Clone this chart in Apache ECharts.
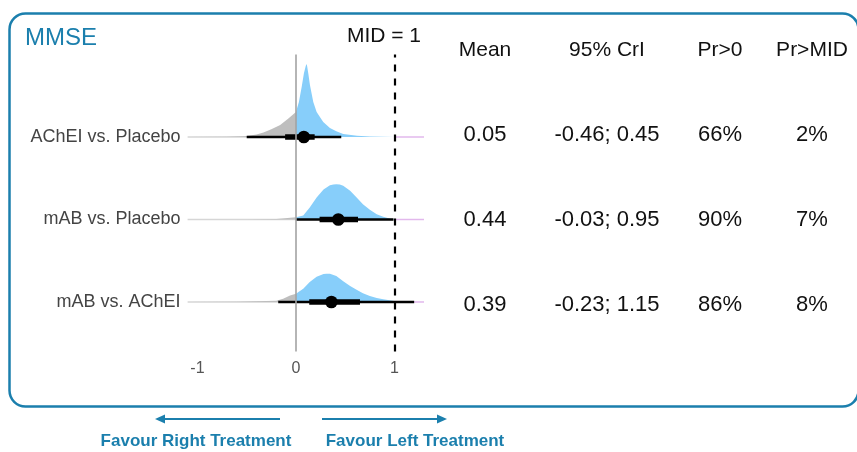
<!DOCTYPE html>
<html>
<head>
<meta charset="utf-8">
<script src="https://cdn.jsdelivr.net/npm/echarts@6/dist/echarts.min.js"></script>
<style>
html,body{margin:0;padding:0;background:#fff;}
#chart{width:857px;height:452px;}
</style>
</head>
<body>
<div id="chart"></div>
<script>
// ---------------- data ----------------
const title = 'MMSE';
const midValue = 1;
const midLabel = 'MID = 1';
const categories = ['AChEI vs. Placebo', 'mAB vs. Placebo', 'mAB vs. AChEI'];

// posterior density curves (x, density)
const dens1X = [-1.1, -0.7, -0.5, -0.4, -0.33, -0.25, -0.16, -0.08, 0, 0.03, 0.058, 0.081, 0.1, 0.11, 0.125, 0.142, 0.176, 0.21, 0.277, 0.345, 0.41, 0.48, 0.62, 0.75, 1.0, 1.3];
const dens1Y = [0, 0.014, 0.047, 0.12, 0.21, 0.36, 0.56, 0.86, 1.17, 1.64, 2.35, 3.0, 3.35, 3.43, 3.0, 2.44, 1.64, 1.17, 0.70, 0.42, 0.27, 0.14, 0.06, 0.023, 0.005, 0];

const dens2X = [-1.1, -0.5, -0.2, 0, 0.074, 0.14, 0.21, 0.28, 0.345, 0.38, 0.41, 0.445, 0.48, 0.55, 0.616, 0.68, 0.75, 0.82, 0.886, 0.95, 1.0, 1.1, 1.3];
const dens2Y = [0, 0.005, 0.02, 0.11, 0.19, 0.56, 1.03, 1.41, 1.61, 1.65, 1.66, 1.64, 1.58, 1.35, 1.03, 0.72, 0.46, 0.25, 0.13, 0.05, 0.014, 0.005, 0];

const dens3X = [-1.1, -0.6, -0.4, -0.2, -0.13, -0.06, 0, 0.074, 0.14, 0.21, 0.28, 0.31, 0.345, 0.41, 0.48, 0.55, 0.62, 0.68, 0.75, 0.82, 0.886, 0.95, 1.0, 1.1, 1.3];
const dens3Y = [0, 0.01, 0.03, 0.06, 0.155, 0.31, 0.39, 0.62, 0.94, 1.19, 1.31, 1.33, 1.33, 1.22, 0.97, 0.75, 0.56, 0.41, 0.28, 0.19, 0.13, 0.08, 0.047, 0.028, 0.01];

const densX = [dens1X, dens2X, dens3X];
const densY = [dens1Y, dens2Y, dens3Y];

// point estimates and intervals
const pointEst = [0.08, 0.43, 0.36];
const outerLow = [-0.50, 0.00, -0.18];
const outerHigh = [0.46, 0.99, 1.20];
const innerLow = [-0.11, 0.24, 0.135];
const innerHigh = [0.19, 0.63, 0.65];

// table
const tableHeaders = ['Mean', '95% CrI', 'Pr>0', 'Pr>MID'];
const meanVals = ['0.05', '0.44', '0.39'];
const criVals = ['-0.46; 0.45', '-0.03; 0.95', '-0.23; 1.15'];
const prGt0 = ['66%', '90%', '86%'];
const prGtMid = ['2%', '7%', '8%'];

const xTickLabels = [-1, 0, 1];
const favourLeftText = 'Favour Left Treatment';
const favourRightText = 'Favour Right Treatment';

// ---------------- chart ----------------
const teal = '#1b7fad';
const FONT = '"Liberation Sans", Arial, sans-serif';
const DENS_SCALE = 0.258; // y units per density unit
const rowVal = i => categories.length - i; // row 0 at top

const chart = echarts.init(document.getElementById('chart'), null, {renderer: 'canvas'});

function segPoly(api, xs, ds, base, a, b) {
  const pts = [];
  for (let k = 0; k < xs.length; k++) {
    if (xs[k] >= a && xs[k] <= b) pts.push([xs[k], base + ds[k] * DENS_SCALE]);
  }
  if (pts.length < 2) return null;
  const poly = [[pts[0][0], base]].concat(pts, [[pts[pts.length - 1][0], base]]);
  return poly.map(p => api.coord(p));
}

function renderRow(params, api) {
  const i = params.dataIndex;
  const base = rowVal(i);
  const xs = densX[i], ds = densY[i];
  const children = [];
  const xMin = xs[0], xMax = xs[xs.length - 1];
  const bl0 = api.coord([xMin, base]), bl1 = api.coord([0, base]);
  children.push({type: 'line', shape: {x1: bl0[0], y1: bl0[1], x2: bl1[0], y2: bl1[1]}, style: {stroke: '#d6d6d6', lineWidth: 1.5}});
  const bm0 = api.coord([midValue, base]), bm1 = api.coord([xMax, base]);
  children.push({type: 'line', shape: {x1: bm0[0], y1: bm0[1], x2: bm1[0], y2: bm1[1]}, style: {stroke: '#e2b8ec', lineWidth: 1.5}});
  const g = segPoly(api, xs, ds, base, -Infinity, 0);
  if (g) children.push({type: 'polygon', shape: {points: g}, style: {fill: '#bebebe'}});
  const bl = segPoly(api, xs, ds, base, 0, midValue);
  if (bl) children.push({type: 'polygon', shape: {points: bl}, style: {fill: '#87cefa'}});
  const pk = segPoly(api, xs, ds, base, midValue, Infinity);
  if (pk) children.push({type: 'polygon', shape: {points: pk}, style: {fill: '#e6c3ef'}});
  const o0 = api.coord([outerLow[i], base]), o1 = api.coord([outerHigh[i], base]);
  children.push({type: 'line', shape: {x1: o0[0], y1: o0[1], x2: o1[0], y2: o1[1]}, style: {stroke: '#000', lineWidth: 2.6}});
  const n0 = api.coord([innerLow[i], base]), n1 = api.coord([innerHigh[i], base]);
  children.push({type: 'line', shape: {x1: n0[0], y1: n0[1], x2: n1[0], y2: n1[1]}, style: {stroke: '#000', lineWidth: 5.5}});
  const c = api.coord([pointEst[i], base]);
  children.push({type: 'circle', shape: {cx: c[0], cy: c[1], r: 6.3}, style: {fill: '#000'}});
  return {type: 'group', children: children};
}

// table graphics
const colX = [485, 607, 720, 812];
const rowY = [135, 220, 305];
const tableCols = [meanVals, criVals, prGt0, prGtMid];
const graphics = [];
graphics.push({type: 'rect', left: 7, top: 11, shape: {x: 0, y: 0, width: 849, height: 393, r: 16}, style: {fill: 'none', stroke: teal, lineWidth: 2.5}, z: 10});
graphics.push({type: 'text', x: 25, y: 38, style: {text: title, fill: teal, font: '24px ' + FONT, textVerticalAlign: 'middle'}});
graphics.push({type: 'text', x: 384, y: 36, style: {text: midLabel, fill: '#111', font: '21px ' + FONT, textAlign: 'center', textVerticalAlign: 'middle'}});
tableHeaders.forEach((h, c) => {
  graphics.push({type: 'text', x: colX[c], y: 50, style: {text: h, fill: '#111', font: '21px ' + FONT, textAlign: 'center', textVerticalAlign: 'middle'}});
  tableCols[c].forEach((v, r) => {
    graphics.push({type: 'text', x: colX[c], y: rowY[r], style: {text: v, fill: '#111', font: '22px ' + FONT, textAlign: 'center', textVerticalAlign: 'middle'}});
  });
});
graphics.push({type: 'line', shape: {x1: 162, y1: 419, x2: 280, y2: 419}, style: {stroke: teal, lineWidth: 2.2}});
graphics.push({type: 'polygon', shape: {points: [[155, 419], [165, 414.5], [165, 423.5]]}, style: {fill: teal}});
graphics.push({type: 'line', shape: {x1: 322, y1: 419, x2: 440, y2: 419}, style: {stroke: teal, lineWidth: 2.2}});
graphics.push({type: 'polygon', shape: {points: [[447, 419], [437, 414.5], [437, 423.5]]}, style: {fill: teal}});
graphics.push({type: 'text', x: 196, y: 441, style: {text: favourRightText, fill: teal, font: 'bold 17px ' + FONT, textAlign: 'center', textVerticalAlign: 'middle'}});
graphics.push({type: 'text', x: 415, y: 441, style: {text: favourLeftText, fill: teal, font: 'bold 17px ' + FONT, textAlign: 'center', textVerticalAlign: 'middle'}});

const option = {
  animation: false,
  backgroundColor: '#fff',
  grid: {left: 187.6, right: 433, top: 54.5, bottom: 100.5, containLabel: false},
  xAxis: {
    type: 'value', min: -1.1, max: 1.3,
    axisLine: {show: false}, axisTick: {show: false}, splitLine: {show: false},
    axisLabel: {customValues: xTickLabels, color: '#555', fontSize: 16, fontFamily: FONT, margin: 9}
  },
  yAxis: {
    type: 'value', min: 0.4, max: 4.0,
    axisLine: {show: false}, axisTick: {show: false}, splitLine: {show: false},
    axisLabel: {
      customValues: categories.map((c, i) => rowVal(i)),
      formatter: v => categories[categories.length - Math.round(v)] || '',
      color: '#444', fontSize: 18, fontFamily: FONT, margin: 7
    }
  },
  series: [
    {
      type: 'custom', name: 'refs', silent: true, z: 1,
      data: [],
      renderItem: () => null,
      markLine: {
        silent: true, symbol: 'none', label: {show: false},
        data: [
          {xAxis: 0, lineStyle: {color: '#a3a3a3', width: 1.6, type: 'solid'}}
        ]
      }
    },
    {
      type: 'custom', name: 'density', z: 2, silent: true,
      data: categories.map((c, i) => [i]),
      renderItem: renderRow,
      clip: false
    },
    {
      type: 'custom', name: 'mid', silent: true, z: 3,
      data: [],
      renderItem: () => null,
      markLine: {
        silent: true, symbol: 'none', label: {show: false},
        data: [
          {xAxis: midValue, lineStyle: {color: '#000', width: 2.2, type: [7, 7]}}
        ]
      }
    }
  ],
  graphic: graphics
};
chart.setOption(option);
</script>
</body>
</html>
